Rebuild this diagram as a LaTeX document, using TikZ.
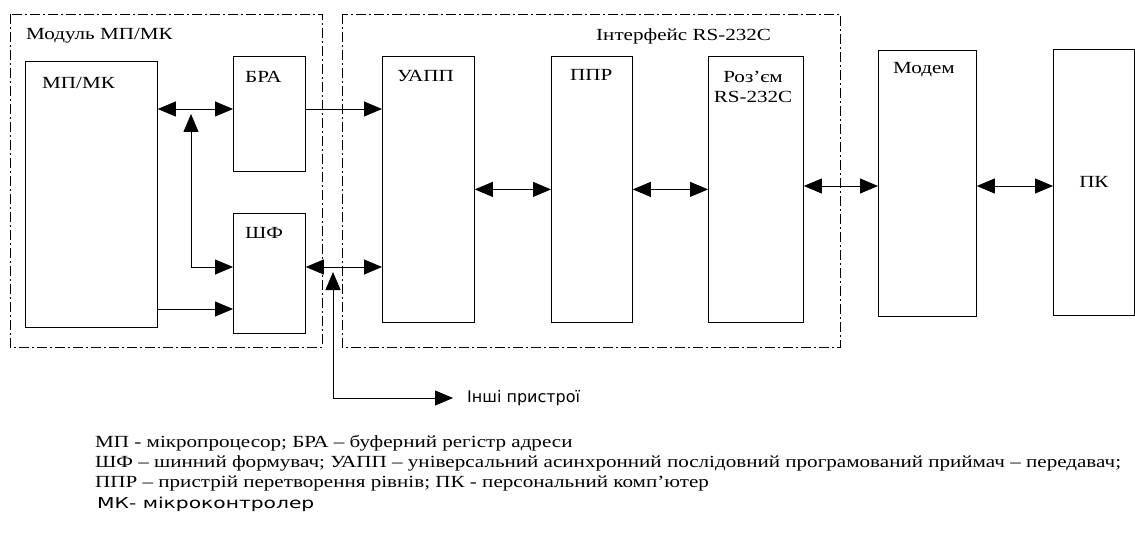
\documentclass[tikz,border=0pt]{standalone}
\usepackage{fontspec}
\setmainfont{Liberation Serif}[FakeStretch=1.24]
\newfontfamily\sansfont{DejaVu Sans}
\newfontfamily\widesans{DejaVu Sans}[FakeStretch=1.35]
\usetikzlibrary{arrows.meta, positioning}

\begin{document}
\begin{tikzpicture}[
  x=1pt, y=-1pt,
  font=\fontsize{17}{20}\selectfont,
  box/.style={draw, line width=0.8pt, anchor=north west, inner sep=0pt},
  group/.style={draw, line width=0.8pt, dash pattern=on 10pt off 3pt on 2pt off 3pt},
  lbl/.style={anchor=west, inner sep=0pt},
  note/.style={anchor=base west, inner sep=0pt},
  arrow/.style={-{Triangle[length=18pt, width=15pt]}, line width=0.8pt},
  both/.style={{Triangle[length=18pt, width=15pt]}-{Triangle[length=18pt, width=15pt]}, line width=0.8pt}
  ]
\useasboundingbox (0,0) rectangle (1135,540);

% Groups
\draw[group] (10,14) rectangle (322,347);
\draw[group] (342,14) rectangle (840,347);
\node[lbl] (modtitle) at (26,36) {Модуль МП/МК};
\node[lbl] (iftitle) at (596,36) {Інтерфейс RS-232C};

% Nodes
\node[box, minimum width=132pt, minimum height=266pt] (mpmk) at (25,61) {};
\node[box, minimum width=72pt, minimum height=115pt] (bra) at (233,56) {};
\node[box, minimum width=72pt, minimum height=120pt] (shf) at (233,213) {};
\node[box, minimum width=92pt, minimum height=266pt] (uapp) at (382,56) {};
\node[box, minimum width=81pt, minimum height=266pt] (ppr) at (551,56) {};
\node[box, minimum width=95pt, minimum height=266pt] (rozem) at (708,56) {};
\node[box, minimum width=98pt, minimum height=266pt] (modem) at (878,50) {};
\node[box, minimum width=81pt, minimum height=266pt] (pc) at (1053,49) {ПК};

% Box labels
\node[lbl] at ([shift={(17,22)}]mpmk.north west) {МП/МК};
\node[lbl] at ([shift={(12,21)}]bra.north west) {БРА};
\node[lbl] at ([shift={(12,20)}]shf.north west) {ШФ};
\node[lbl] at ([shift={(15,20)}]uapp.north west) {УАПП};
\node[lbl] at ([shift={(19,19)}]ppr.north west) {ППР};
\node[inner sep=0pt, align=center] at ([shift={(45,31)}]rozem.north west) {Роз’єм\\RS-232C};
\node[lbl] at ([shift={(15,20)}]modem.north west) {Модем};

% Rows and junctions
\coordinate (r1) at (0,109);
\coordinate (r2) at (0,309);
\coordinate (r3) at (0,267);
\coordinate (r4) at (0,186);
\coordinate (j1) at (191,114);
\coordinate (j2) at (333,272);
\node[lbl, font=\sansfont\fontsize{16}{18}\selectfont] (inshi) at (467,398) {Інші пристрої};

% Arrows
\draw[both] (mpmk.east |- r1) -- (bra.west |- r1);
\draw[both] (j1) |- (shf.west |- r3);
\draw[arrow] (mpmk.east |- r2) -- (shf.west |- r2);
\draw[arrow] (bra.east |- r1) -- (uapp.west |- r1);
\draw[both] (shf.east |- r3) -- (uapp.west |- r3);
\draw[both] (j2) |- ([xshift=-14pt]inshi.west);
\draw[both] (uapp) -- (ppr);
\draw[both] (ppr) -- (rozem);
\draw[both] (rozem.east |- r4) -- (modem.west |- r4);
\draw[both] (modem.east |- r4) -- (pc.west |- r4);

% Notes
\node[note] (note1) at (95,447) {МП - мікропроцесор; БРА – буферний регістр адреси};
\node[note] (note2) at (95,467) {ШФ – шинний формувач; УАПП – універсальний асинхронний послідовний програмований приймач – передавач;};
\node[note] (note3) at (95,487) {ППР – пристрій перетворення рівнів; ПК - персональний комп’ютер};
\node[note, font=\widesans\fontsize{15}{18}\selectfont] (note4) at (97,508) {МК- мікроконтролер};

\end{tikzpicture}
\end{document}
